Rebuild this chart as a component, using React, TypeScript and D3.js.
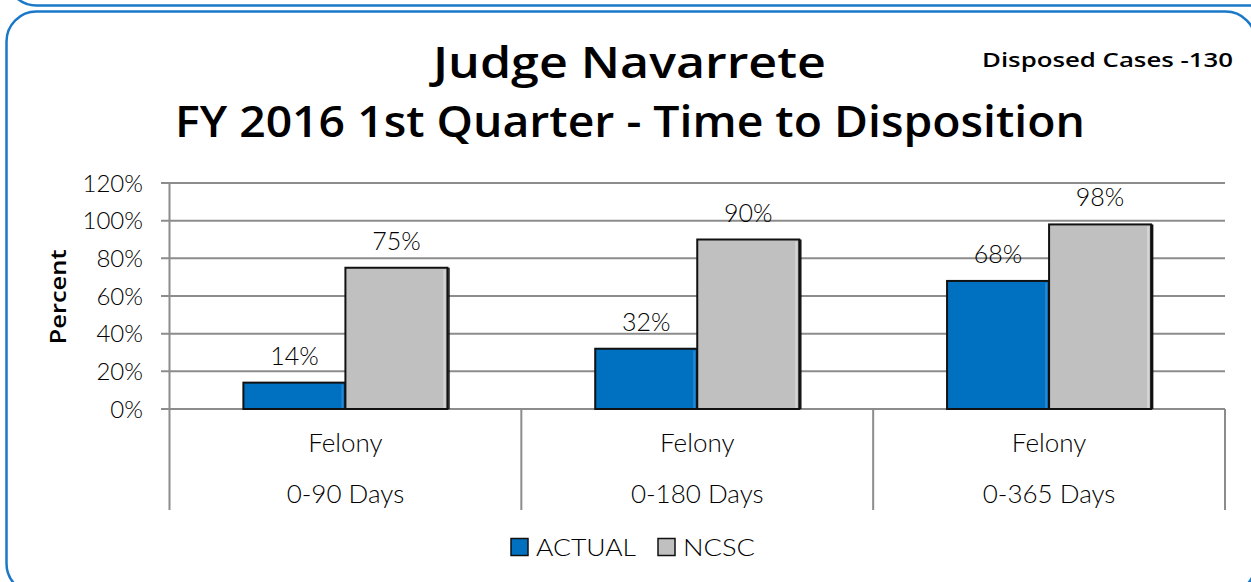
import React from "react";
import * as d3 from "d3";

const categoriesTop = ["Felony", "Felony", "Felony"];
const categoriesBottom = ["0-90 Days", "0-180 Days", "0-365 Days"];
const seriesNames = ["ACTUAL", "NCSC"];
const actualValues = [0.14, 0.32, 0.68];
const ncscValues = [0.75, 0.9, 0.98];
const yTicks = [0, 0.2, 0.4, 0.6, 0.8, 1.0, 1.2];
const colors = ["#0070c0", "#c0c0c0"];

const W = 1251;
const H = 582;
const plotLeft = 169.5;
const plotRight = 1225;
const plotTop = 183;
const plotBottom = 409;

export default function App() {
  const y = d3.scaleLinear().domain([0, 1.2]).range([plotBottom, plotTop]);
  const keys = categoriesBottom;
  const x = d3.scaleBand<string>().domain(keys).range([plotLeft, plotRight]).padding(0);
  const groupW = x.bandwidth() * 0.58;
  const inner = d3.scaleBand<string>().domain(seriesNames).range([0, groupW]).padding(0);
  const series = [actualValues, ncscValues];
  const fmt = d3.format(".0%");
  const tickFont = "Lato, 'Noto Sans', sans-serif";
  const grid = "#8c8c8c";
  const lw = 300;

  return (
    <svg width={W} height={H} style={{ position: "absolute", left: 0, top: 0, background: "#fff" }}>
      {/* panel frames */}
      <rect x={6.5} y={-600} width={1280} height={605.5} rx={30} fill="none" stroke="#1a78c8" strokeWidth={2.5} />
      <rect x={6.5} y={11.5} width={1249} height={582} rx={30} fill="none" stroke="#1a78c8" strokeWidth={2.5} />

      {/* titles */}
      <text x={629.5} y={78} textAnchor="middle" fontFamily="'Open Sans', sans-serif" fontWeight={600} fontSize={44} textLength={393} lengthAdjust="spacingAndGlyphs">Judge Navarrete</text>
      <text x={630} y={137} textAnchor="middle" fontFamily="'Open Sans', sans-serif" fontWeight={600} fontSize={44} textLength={910} lengthAdjust="spacingAndGlyphs">FY 2016 1st Quarter - Time to Disposition</text>
      <text x={982} y={67} fontFamily="'Open Sans', sans-serif" fontWeight={600} fontSize={20} textLength={251} lengthAdjust="spacingAndGlyphs">Disposed Cases -130</text>

      {/* gridlines and y ticks */}
      {yTicks.map((t) => (
        <g key={t}>
          <line x1={161} x2={plotRight} y1={y(t)} y2={y(t)} stroke={grid} strokeWidth={2} />
          <text x={143} y={y(t) + 8.5} textAnchor="end" fontFamily={tickFont} fontWeight={lw} fontSize={24} fill="#000">{fmt(t)}</text>
        </g>
      ))}
      <line x1={plotLeft} x2={plotLeft} y1={plotTop} y2={510} stroke={grid} strokeWidth={2} />
      {keys.map((k) => (
        <line key={k} x1={(x(k) as number) + x.bandwidth()} x2={(x(k) as number) + x.bandwidth()} y1={plotBottom} y2={510} stroke={grid} strokeWidth={2} />
      ))}

      {/* y title */}
      <text transform="translate(66,297) rotate(-90)" textAnchor="middle" fontFamily="'Open Sans', sans-serif" fontWeight={600} fontSize={22} textLength={95} lengthAdjust="spacingAndGlyphs">Percent</text>

      {/* bars */}
      {keys.map((k, ci) => {
        const gx = (x(k) as number) + (x.bandwidth() - groupW) / 2;
        return (
          <g key={k}>
            {seriesNames.map((s, si) => {
              const v = series[si][ci];
              const bx = gx + (inner(s) as number);
              const bw = inner.bandwidth();
              const top = y(v);
              return (
                <g key={s}>
                  <rect x={bx} y={top} width={bw} height={plotBottom - top} fill={colors[si]} stroke="#111" strokeWidth={2} />
                  <line x1={bx + bw - 3} x2={bx + bw - 3} y1={top + 2} y2={plotBottom - 1} stroke={si === 0 ? "#2a86d0" : "#d6d6d6"} strokeWidth={2} />
                  <line x1={bx + bw + 1.5} x2={bx + bw + 1.5} y1={top} y2={plotBottom} stroke="#111" strokeWidth={1.5} />
                  <text x={bx + bw / 2} y={top - 18} textAnchor="middle" fontFamily={tickFont} fontWeight={lw} fontSize={25} fill="#000">{fmt(v)}</text>
                </g>
              );
            })}
          </g>
        );
      })}

      {/* category labels */}
      {keys.map((k, ci) => {
        const cx = (x(k) as number) + x.bandwidth() / 2;
        return (
          <g key={k}>
            <text x={cx} y={452} textAnchor="middle" fontFamily={tickFont} fontWeight={lw} fontSize={26} fill="#000">{categoriesTop[ci]}</text>
            <text x={cx} y={503} textAnchor="middle" fontFamily={tickFont} fontWeight={lw} fontSize={26} fill="#000">{categoriesBottom[ci]}</text>
          </g>
        );
      })}

      {/* legend */}
      <rect x={511} y={538.5} width={17} height={17} fill={colors[0]} stroke="#111" strokeWidth={1.5} />
      <text x={536} y={556} fontFamily={tickFont} fontWeight={lw} fontSize={24} fill="#000" textLength={100} lengthAdjust="spacingAndGlyphs">{seriesNames[0]}</text>
      <rect x={658} y={538.5} width={17} height={17} fill={colors[1]} stroke="#111" strokeWidth={1.5} />
      <text x={683} y={556} fontFamily={tickFont} fontWeight={lw} fontSize={24} fill="#000" textLength={72} lengthAdjust="spacingAndGlyphs">{seriesNames[1]}</text>
    </svg>
  );
}
